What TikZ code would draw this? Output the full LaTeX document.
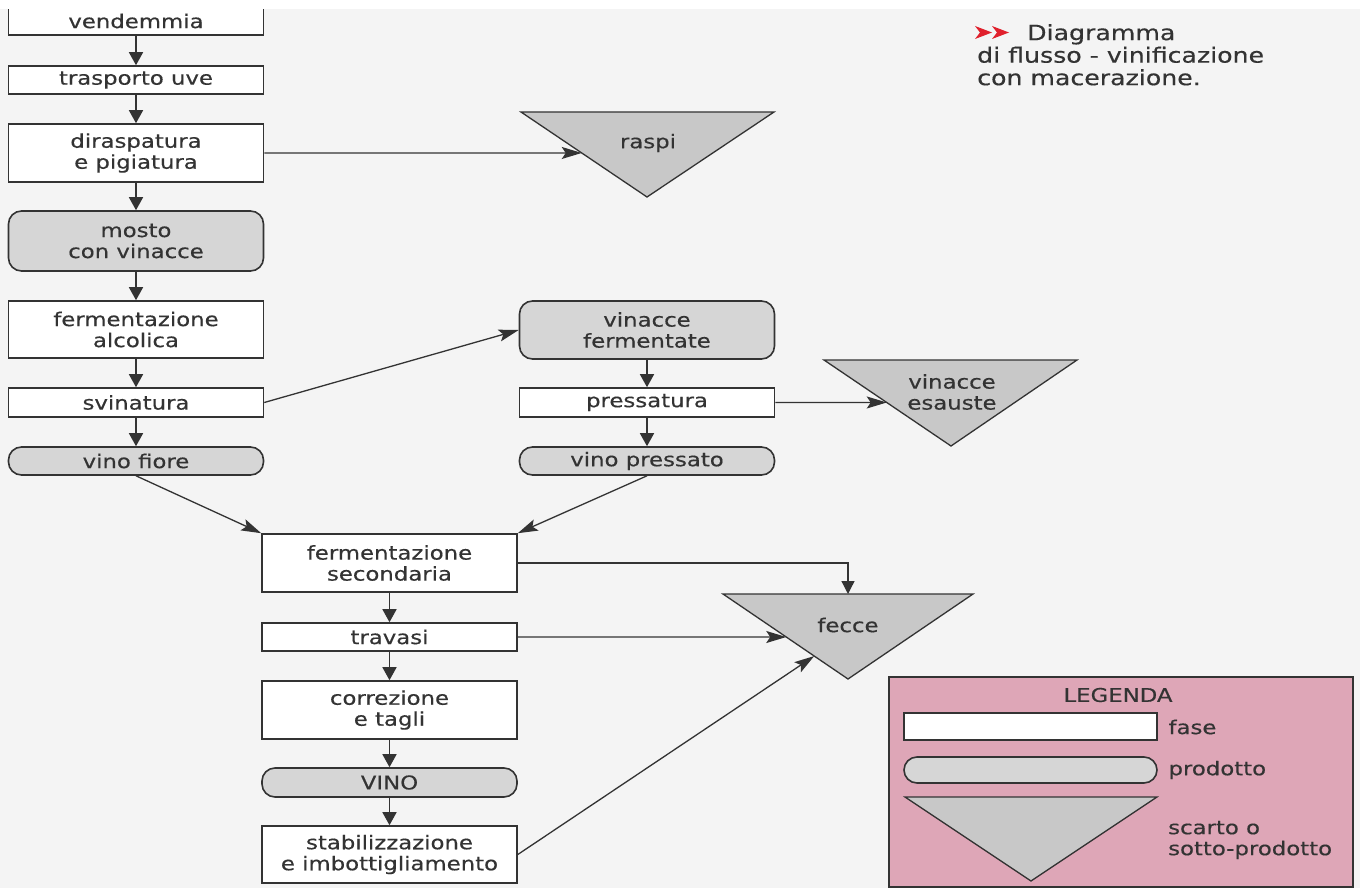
\documentclass[tikz,border=0pt]{standalone}
\usepackage{fontspec}
\setmainfont{DejaVu Sans}[FakeStretch=1.2,FakeBold=0.4]
\usetikzlibrary{arrows.meta,calc}
\definecolor{ink}{HTML}{333333}
\definecolor{cbg}{HTML}{F4F4F4}
\definecolor{cprod}{HTML}{D6D6D6}
\definecolor{cwaste}{HTML}{C8C8C8}
\definecolor{cpink}{HTML}{DEA6B7}
\definecolor{cred}{HTML}{E0202C}
\begin{document}
\begin{tikzpicture}[x=1pt,y=-1pt,
  every node/.style={font=\fontsize{19}{21}\selectfont, text=ink},
  fasebox/.style={draw=ink, line width=1.6pt, fill=white, minimum width=255pt, inner sep=0pt, align=center},
  prodbox/.style={fasebox, fill=cprod, rounded corners=13pt},
  flow/.style={draw=ink, line width=1.6pt, -{Triangle[width=14pt,length=13pt]}},
  link/.style={draw=ink, line width=1.3pt, -{Stealth[width=12pt,length=20pt,inset=4pt]}},
  wastetri/.style={draw=ink, line width=1.3pt, fill=cwaste, line join=miter},
  legbox/.style={draw=ink, line width=1.5pt, fill=cpink, inner sep=0pt},
]
\useasboundingbox (0,0) rectangle (1360,888);
\fill[cbg] (0,0) rectangle (1360,888);

% left column
\node[fasebox, minimum height=28pt] (vend) at (136,21) {vendemmia};
\node[fasebox, minimum height=28pt] (trasp) at (136,80) {trasporto uve};
\node[fasebox, minimum height=58pt] (diras) at (136,153) {diraspatura\\e pigiatura};
\node[prodbox, minimum height=60pt] (mosto) at (136,241) {mosto\\con vinacce};
\node[fasebox, minimum height=57pt] (falc) at (136,329.5) {fermentazione\\alcolica};
\node[fasebox, minimum height=29pt] (svin) at (136,402.5) {svinatura};
\node[prodbox, minimum height=28pt] (vfiore) at (136,461) {vino fiore};

% middle column
\node[fasebox, minimum height=58pt] (fsec) at (389.5,563) {fermentazione\\secondaria};
\node[fasebox, minimum height=28pt] (trav) at (389.5,637) {travasi};
\node[fasebox, minimum height=58pt] (corr) at (389.5,710) {correzione\\e tagli};
\node[prodbox, minimum height=29pt] (vino) at (389.5,782.5) {VINO};
\node[fasebox, minimum height=57pt] (stab) at (389.5,854.5) {stabilizzazione\\e imbottigliamento};

% right column
\node[prodbox, minimum height=58pt] (vfer) at (647,330) {vinacce\\fermentate};
\node[fasebox, minimum height=29pt] (press) at (647,402.5) {pressatura};
\node[prodbox, minimum height=28pt] (vpress) at (647,461) {vino pressato};

% waste triangles
\coordinate (raL) at (521,112); \coordinate (raR) at (774,112); \coordinate (raA) at (647,197);
\draw[wastetri] (raL) -- (raR) -- (raA) -- cycle;
\node (raspi) at (648,143) {raspi};

\coordinate (veL) at (824,360); \coordinate (veR) at (1077,360); \coordinate (veA) at (951,446);
\draw[wastetri] (veL) -- (veR) -- (veA) -- cycle;
\node[align=center] (vesa) at (952,392) {vinacce\\esauste};

\coordinate (feL) at (723,594); \coordinate (feR) at (973,594); \coordinate (feA) at (848,679);
\draw[wastetri] (feL) -- (feR) -- (feA) -- cycle;
\node (fecce) at (848,625) {fecce};

% entry points on triangles
\coordinate (raIn) at ($(raL)!0.482!(raA)$);
\coordinate (veIn) at ($(veL)!0.494!(veA)$);
\coordinate (feTop) at ($(feL)!0.5!(feR)$);
\coordinate (feIn1) at ($(feL)!0.506!(feA)$);
\coordinate (feIn2) at ($(feL)!0.73!(feA)$);

% vertical flow
\draw[flow] (vend.south) -- (trasp.north);
\draw[flow] (trasp.south) -- (diras.north);
\draw[flow] (diras.south) -- (mosto.north);
\draw[flow] (mosto.south) -- (falc.north);
\draw[flow] (falc.south) -- (svin.north);
\draw[flow] (svin.south) -- (vfiore.north);
\draw[flow] (vfer.south) -- (press.north);
\draw[flow] (press.south) -- (vpress.north);
\draw[flow] (fsec.south) -- (trav.north);
\draw[flow] (trav.south) -- (corr.north);
\draw[flow] (corr.south) -- (vino.north);
\draw[flow] (vino.south) -- (stab.north);

% side links
\draw[link] (diras.east) -- (raIn);
\draw[link] (svin.east) -- (vfer.west);
\draw[link] (press.east) -- (veIn);
\draw[link] (vfiore.south) -- (fsec.north west);
\draw[link] (vpress.south) -- (fsec.north east);
\draw[draw=ink, line width=1.3pt, -{Triangle[width=13pt,length=13pt]}] (fsec.east) -| (feTop);
\draw[link] (trav.east) -- (feIn1);
\draw[link] (stab.east) -- (feIn2);

% legend
\node[legbox, minimum width=464pt, minimum height=210pt] (legenda) at (1121,782) {};
\node (legt) at (1118,695) {LEGENDA};
\node[fasebox, minimum width=253pt, minimum height=27pt] (legfase) at (1030.5,726.5) {};
\node[prodbox, minimum width=253pt, minimum height=26pt] (legprod) at (1030.5,770) {};
\coordinate (lgL) at (905,797); \coordinate (lgR) at (1157,797); \coordinate (lgA) at (1031,881);
\draw[wastetri] (lgL) -- (lgR) -- (lgA) -- cycle;
\node[anchor=west] (lfase) at (1165,727) {fase};
\node[anchor=west] (lprod) at (1165,770) {prodotto};
\node[anchor=west, align=left, inner sep=0pt] (lscarto) at (1168,840) {scarto o\\sotto-prodotto};

% top white strip
\fill[white] (0,0) rectangle (1360,9);

% title
\fill[cred] (975,26) -- (992,32.5) -- (975,39) -- (980,32.5) -- cycle;
\fill[cred] (992,26) -- (1009,32.5) -- (992,39) -- (997,32.5) -- cycle;
\node[anchor=north west, align=left, inner sep=0pt, font=\fontsize{21}{22.5}\selectfont] (title) at (977,24) {\hspace*{50pt}Diagramma\\di flusso - vinificazione\\con macerazione.};
\end{tikzpicture}
\end{document}
